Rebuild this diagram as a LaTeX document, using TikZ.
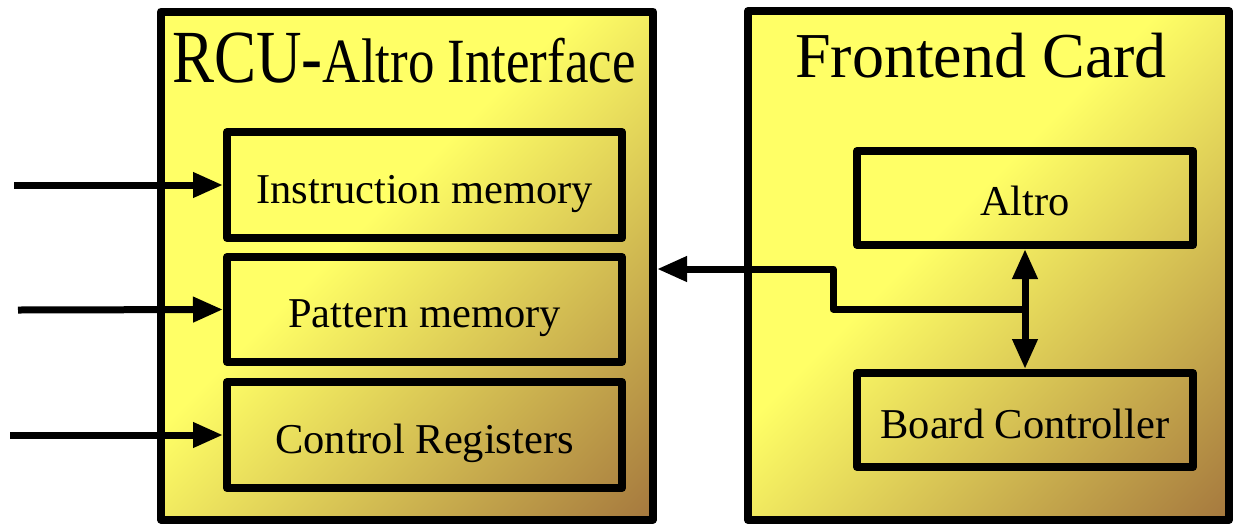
\documentclass[tikz,border=0pt]{standalone}
\usepackage{fontspec}
\setmainfont{Liberation Serif}
\usetikzlibrary{arrows.meta}
\definecolor{yel}{RGB}{255,255,102}
\definecolor{brn}{RGB}{165,120,62}
\pgfdeclarehorizontalshading{ybshade}{100bp}{color(0bp)=(yel); color(44bp)=(yel); color(85.4bp)=(brn); color(100bp)=(brn)}
\tikzset{
  bigbox/.style={draw, line width=8pt, line join=round, shade, shading=ybshade, shading angle=-45, inner sep=0pt},
  innerbox/.style={draw, line width=8pt, line join=round,
    minimum width=395pt, minimum height=106pt, inner sep=0pt, text height=36pt, text depth=0pt,
    font=\fontsize{42.5}{42.5}\selectfont},
  conn/.style={line width=7pt, line join=round, -{Triangle[length=30pt,width=24pt]}},
  biconn/.style={line width=7pt, {Triangle[length=30pt,width=24pt]}-{Triangle[length=30pt,width=24pt]}},
}
\begin{document}
\begin{tikzpicture}[x=1pt,y=-1pt]
\useasboundingbox (0,0) rectangle (1238,528);
% big boxes
\node[bigbox, minimum width=492pt, minimum height=508pt] (rcu) at (407,265.5) {};
\node[bigbox, minimum width=481pt, minimum height=509pt] (fec) at (988.5,265.5) {};
% inner boxes left
\node[innerbox] (im) at (424.5,185) {Instruction memory};
\node[innerbox, minimum height=105pt] (pm) at (424.5,309.5) {Pattern memory};
\node[innerbox] (cr) at (424.5,435) {Control Registers};
% inner boxes right
\node[innerbox, minimum width=336pt, minimum height=94pt, text height=34pt] (al) at (1025,198) {Altro};
\node[innerbox, minimum width=336pt, minimum height=94pt] (bc) at (1025,420) {Board Controller};
% titles
\node[anchor=base, inner sep=0pt] (t1) at (404,82) {\scalebox{0.84}[1]{\fontsize{75}{75}\selectfont RCU-\fontsize{63}{63}\selectfont Altro Interface}};
\node[anchor=base, inner sep=0pt] (t2) at (981,77) {\fontsize{64}{64}\selectfont Frontend Card};
% input arrows
\coordinate (i1) at (14,185);
\coordinate (i2) at (18,310);
\coordinate (i3) at (10,435);
\draw[conn] (i1) -- (im.west);
\draw[conn] (i2) -- (pm.west);
\draw[conn] (i3) -- (cr.west);
% bus
\draw[biconn] (al.south) -- (bc.north);
\coordinate (bk) at (833,309);
\coordinate (bl) at (833,269);
\draw[conn] (bk -| al.south) -- (bk) -- (bl) -- (bl -| rcu.east);
\end{tikzpicture}
\end{document}
